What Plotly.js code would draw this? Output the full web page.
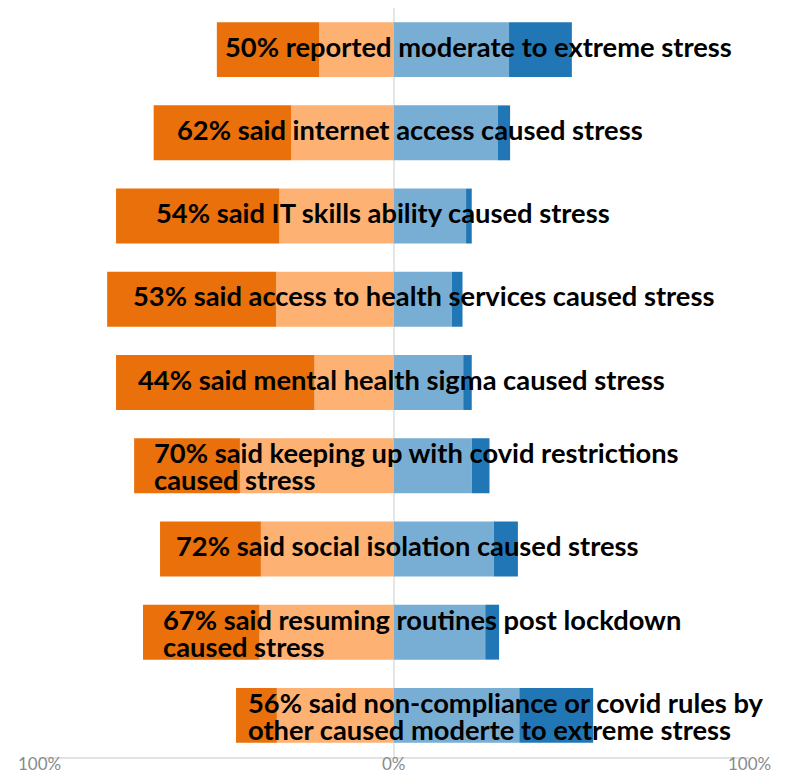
<!DOCTYPE html>
<html>
<head>
<meta charset="utf-8">
<script src="https://cdn.plot.ly/plotly-3.0.1.min.js"></script>
<style>html,body{margin:0;padding:0;background:#fff;}#chart{width:789px;height:775px;}</style>
</head>
<body>
<div id="chart"></div>
<script>
// Categories (top to bottom)
const categories = ["stress", "internet", "itskills", "health", "stigma", "restrictions", "isolation", "routines", "noncompliance"];
const labels = [
  "50% reported moderate to extreme stress",
  "62% said internet access caused stress",
  "54% said IT skills ability caused stress",
  "53% said access to health services caused stress",
  "44% said mental health sigma caused stress",
  "70% said keeping up with covid restrictions<br>caused stress",
  "72% said social isolation caused stress",
  "67% said resuming routines post lockdown<br>caused stress",
  "56% said non-compliance or covid rules by<br>other caused moderte to extreme stress"
];
// Percent values
const darkOrange  = [28.8, 38.7, 46.0, 47.6, 55.9, 29.8, 28.4, 32.8, 11.5];
const lightOrange = [21.1, 29.0, 32.3, 33.2, 22.4, 43.4, 37.5, 37.9, 33.0];
const lightBlue   = [32.4, 29.2, 20.3, 16.3, 19.5, 21.9, 28.1, 25.7, 35.3];
const darkBlue    = [17.7,  3.5,  1.6,  3.0,  2.4,  5.0,  6.8,  3.9, 20.8];
const tickVals = [-100, 0, 100];
const tickText = ["100%", "0%", "100%"];

// label layout (left edge of each text, in axis units)
const labelX = [-48.3, -61.7, -67.7, -74.1, -72.7, -68.3, -62.0, -65.6, -41.7];

const neg = a => a.map(v => -v);
const base = {type: "bar", orientation: "h", y: categories, hoverinfo: "skip"};
const traces = [
  Object.assign({}, base, {x: neg(lightOrange), marker: {color: "#FDB273", line: {width: 0}}}),
  Object.assign({}, base, {x: neg(darkOrange), marker: {color: "#E9700A", line: {width: 0}}}),
  Object.assign({}, base, {x: lightBlue, marker: {color: "#79AED4", line: {width: 0}}}),
  Object.assign({}, base, {x: darkBlue, marker: {color: "#2177B5", line: {width: 0}}})
];

const labelFont = {family: "Lato, 'Open Sans', sans-serif", size: 27.3, color: "#000", weight: "bold"};
const annotations = [];
labels.forEach((t, i) => {
  const lines = t.split("<br>");
  const shifts = lines.length === 1 ? [3.5] : [13, -14];
  lines.forEach((ln, j) => {
    annotations.push({
      x: labelX[i], y: categories[i], xref: "x", yref: "y",
      text: ln, showarrow: false, xanchor: "left", yanchor: "middle", align: "left",
      yshift: shifts[j], font: labelFont
    });
  });
});
// tick labels
tickVals.forEach((v, i) => {
  annotations.push({
    x: v, y: 0, xref: "x", yref: "paper", text: tickText[i], showarrow: false,
    xanchor: "center", yanchor: "bottom", yshift: -17.5, borderpad: 0,
    font: {family: "Lato, sans-serif", size: 17, color: "#8a8a8a"}
  });
});

const layout = {
  width: 789, height: 775,
  margin: {l: 39, r: 40, t: 8, b: 18, autoexpand: false},
  paper_bgcolor: "#fff", plot_bgcolor: "#fff",
  barmode: "relative", bargap: 0.34,
  showlegend: false,
  xaxis: {
    range: [-100, 100], tickvals: tickVals, showticklabels: false,
    showgrid: true, gridcolor: "#e6e6e6", gridwidth: 1.5,
    zeroline: false, showline: true, linecolor: "#e3e3e3", linewidth: 1.5,
    ticks: "", automargin: false, fixedrange: true
  },
  yaxis: {
    type: "category", categoryorder: "array", categoryarray: categories,
    autorange: "reversed", showticklabels: false, showgrid: false, zeroline: false,
    automargin: false, fixedrange: true
  },
  shapes: [{type: "line", xref: "x", yref: "paper", x0: 0, x1: 0, y0: 0, y1: 1,
            line: {color: "#ebebeb", width: 1.5, dash: "4px,4px"}, layer: "below"}],
  annotations: annotations
};

Plotly.newPlot("chart", traces, layout, {displayModeBar: false, staticPlot: true});
</script>
</body>
</html>
